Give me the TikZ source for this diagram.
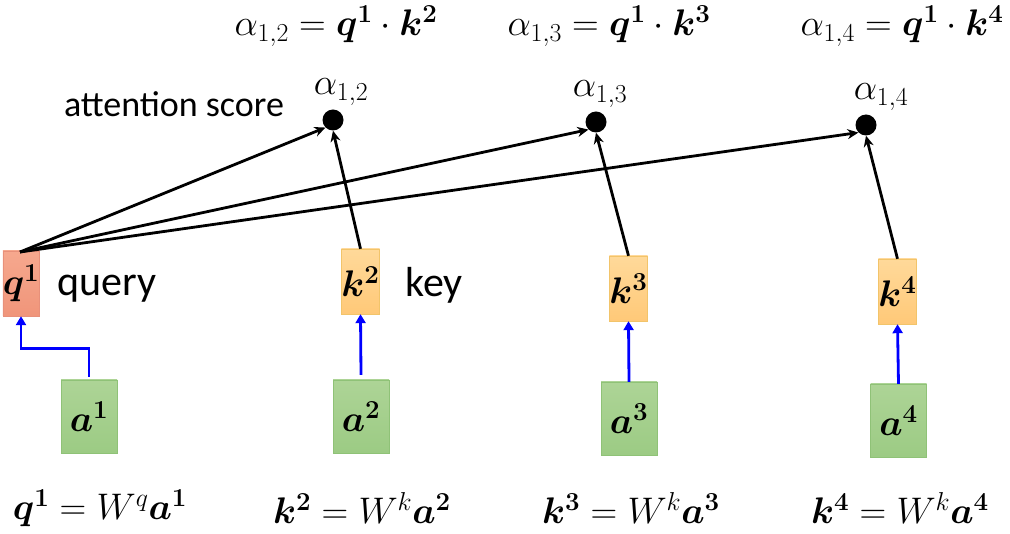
\RequirePackage{fix-cm}
\documentclass[tikz,border=0pt]{standalone}
\usepackage{amsmath,bm}
\usepackage{fontspec}
\newfontfamily\cali{Carlito}
\usetikzlibrary{arrows.meta}
\begin{document}
\begin{tikzpicture}[x=1pt,y=-1pt,
  qbox/.style={draw=qedge,top color=qtop,bottom color=qbot,minimum width=36pt,minimum height=65pt,inner sep=0pt},
  kbox/.style={draw=kedge,top color=ktop,bottom color=kbot,minimum width=35pt,minimum height=65pt,inner sep=0pt},
  abox/.style={draw=aedge,top color=atop,bottom color=abot,minimum width=56pt,minimum height=73pt,inner sep=0pt},
  dotnode/.style={circle,fill=black,minimum size=21pt,inner sep=0pt},
  score/.style={draw=black,line width=2.8pt,-{Stealth[length=11pt,width=10pt]}},
  proj/.style={draw=blue,line width=2.8pt,-{Triangle[length=9pt,width=10pt]}},
  lbl/.style={font=\cali\fontsize{42}{46}\selectfont,inner sep=0pt},
  mth/.style={font=\fontsize{37}{42}\selectfont,inner sep=0pt},
  inbox/.style={font=\fontsize{37}{42}\selectfont}
]
\definecolor{qedge}{HTML}{E8907A}
\definecolor{qtop}{HTML}{F6A88E}
\definecolor{qbot}{HTML}{F0957A}
\definecolor{kedge}{HTML}{F2C46A}
\definecolor{ktop}{HTML}{FFD99A}
\definecolor{kbot}{HTML}{FFC978}
\definecolor{aedge}{HTML}{8FC277}
\definecolor{atop}{HTML}{ADD496}
\definecolor{abot}{HTML}{9CCB84}
\useasboundingbox (0,0) rectangle (1010,534);
% boxes
\node[qbox,inbox] (q1) at (21,283.5) {$\bm{q^1}$};
\node[kbox,inbox] (k2) at (360.5,281.5) {$\bm{k^2}$};
\node[kbox,inbox] (k3) at (628.5,288.5) {$\bm{k^3}$};
\node[kbox,inbox] (k4) at (897.5,291.5) {$\bm{k^4}$};
\node[abox,inbox] (a1) at (89,416.5) {$\bm{a^1}$};
\node[abox,inbox] (a2) at (361,416.5) {$\bm{a^2}$};
\node[abox,inbox] (a3) at (629,418.5) {$\bm{a^3}$};
\node[abox,inbox] (a4) at (898.5,420.5) {$\bm{a^4}$};
% dots
\node[dotnode] (d2) at (333,120) {};
\node[dotnode] (d3) at (596,122) {};
\node[dotnode] (d4) at (866,125) {};
% labels
\node[lbl] (query) at (107,289) {query};
\node[lbl] (key) at (434,285) {key};
\node[lbl,font=\cali\fontsize{36}{40}\selectfont] (att) at (174,104) {attention score};
\node[mth] (al2) at (341,92) {$\alpha_{1,2}$};
\node[mth] (al3) at (600,94) {$\alpha_{1,3}$};
\node[mth] (al4) at (881,97) {$\alpha_{1,4}$};
\node[mth] (f2) at (336,26) {$\alpha_{1,2}=\bm{q^1}\cdot\bm{k^2}$};
\node[mth] (f3) at (609,26) {$\alpha_{1,3}=\bm{q^1}\cdot\bm{k^3}$};
\node[mth] (f4) at (902,26) {$\alpha_{1,4}=\bm{q^1}\cdot\bm{k^4}$};
\node[mth] (e1) at (100,508) {$\bm{q^1}=W^{q}\bm{a^1}$};
\node[mth] (e2) at (362,508) {$\bm{k^2}=W^{k}\bm{a^2}$};
\node[mth] (e3) at (631,508) {$\bm{k^3}=W^{k}\bm{a^3}$};
\node[mth] (e4) at (900,508) {$\bm{k^4}=W^{k}\bm{a^4}$};
% score arrows
\coordinate (qt) at (20,252);
\draw[score] (qt) -- (d2.south west);
\draw[score] (qt) -- (d3.south west);
\draw[score] (qt) -- (d4.south west);
\draw[score] (k2.north) -- (d2.south);
\draw[score] (k3.north) -- (d3.south);
\draw[score] (k4.north) -- (d4.south);
% projections
\draw[proj] (a1.north) ++(0,-3) -- ++(0,-28) -| (q1.south);
\draw[proj] (a2.north) ++(0,-5) -- (k2.south);
\draw[proj] (a3.north) -- (k3.south);
\draw[proj] (a4.north) -- (k4.south);
\end{tikzpicture}
\end{document}
